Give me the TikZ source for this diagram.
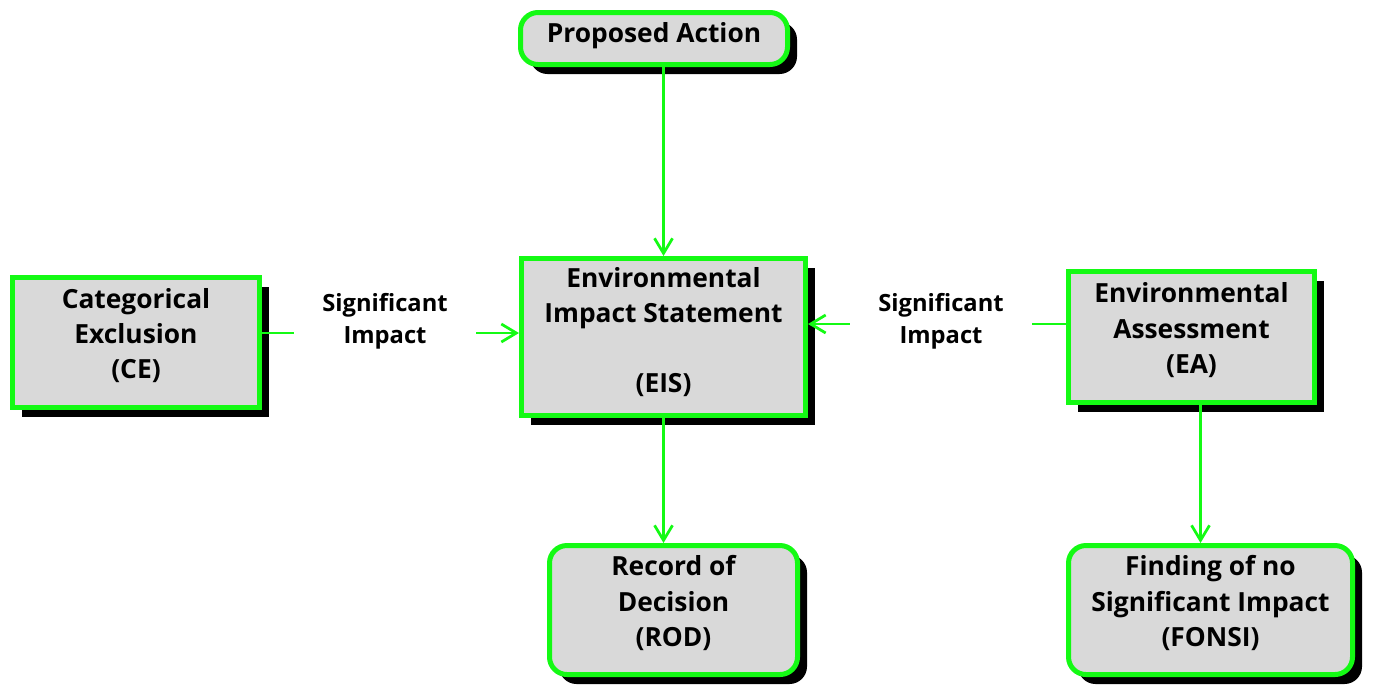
\documentclass[tikz,border=0pt]{standalone}
\usepackage{fontspec}
\setmainfont{Open Sans}
\usetikzlibrary{shapes, positioning, arrows.meta, shadows}

\definecolor{boxgreen}{RGB}{20,250,20}
\definecolor{boxgrey}{RGB}{217,217,217}

\tikzset{
  box/.style={draw=boxgreen, line width=1mm, fill=boxgrey, align=center,
    font=\fontsize{15}{20}\selectfont\bfseries, inner sep=0pt, text depth=3.6mm,
    drop shadow={shadow xshift=1.9mm, shadow yshift=-1.9mm, fill=black, opacity=1}},
  roundbox/.style={box, rounded corners=3.5mm},
  sig/.style={align=center, font=\fontsize{13.5}{18}\selectfont\bfseries, inner xsep=0.56cm},
  link/.style={draw=boxgreen, line width=0.55mm},
  arrow/.style={link, -{Straight Barb[length=3mm,width=3.6mm]}}
}

\begin{document}
\begin{tikzpicture}
        \useasboundingbox (0,0) rectangle (27.46,-13.7);

        % Level of the side connectors
        \def\yLink{-6.66}
        \def\yLinkR{-6.48}

        % Boxes
        \node[roundbox, text depth=2.5mm, minimum width=5.34cm, minimum height=1.04cm] (pa) at (13.08,-0.77) {Proposed Action};
        \node[box, text depth=2.8mm, minimum width=5.68cm, minimum height=3.14cm] (eis) at (13.27,-6.74) {Environmental\\Impact Statement\\ \\(EIS)};
        \node[box, minimum width=4.94cm, minimum height=2.6cm] (ce) at (2.72,-6.85) {Categorical\\Exclusion\\(CE)};
        \node[box, minimum width=4.92cm, minimum height=2.62cm] (ea) at (23.83,-6.74) {Environmental\\Assessment\\(EA)};
        \node[roundbox, minimum width=4.96cm, minimum height=2.58cm] (rod) at (13.47,-12.2) {Record of\\Decision\\(ROD)};
        \node[roundbox, minimum width=5.68cm, minimum height=2.58cm] (fonsi) at (24.21,-12.2) {Finding of no\\Significant Impact\\(FONSI)};

        % Labels between the boxes
        \node[sig] (sigL) at (7.7,-6.42) {Significant\\Impact};
        \node[sig] (sigR) at (18.82,-6.42) {Significant\\Impact};

        % Connectors
        \draw[arrow] (pa.south -| eis) -- (eis.north);
        \draw[arrow] (eis.south) -- (eis.south |- rod.north);
        \draw[arrow] ([xshift=1.8mm]ea.south) -- ([xshift=1.8mm]ea.south |- fonsi.north);

        \draw[link] (ce.east |- 0,\yLink) -- (sigL.west |- 0,\yLink);
        \draw[arrow] (sigL.east |- 0,\yLink) -- (eis.west |- 0,\yLink);

        \draw[link] (ea.west |- 0,\yLinkR) -- (sigR.east |- 0,\yLinkR);
        \draw[arrow] (sigR.west |- 0,\yLinkR) -- (eis.east |- 0,\yLinkR);
    \end{tikzpicture}
\end{document}
